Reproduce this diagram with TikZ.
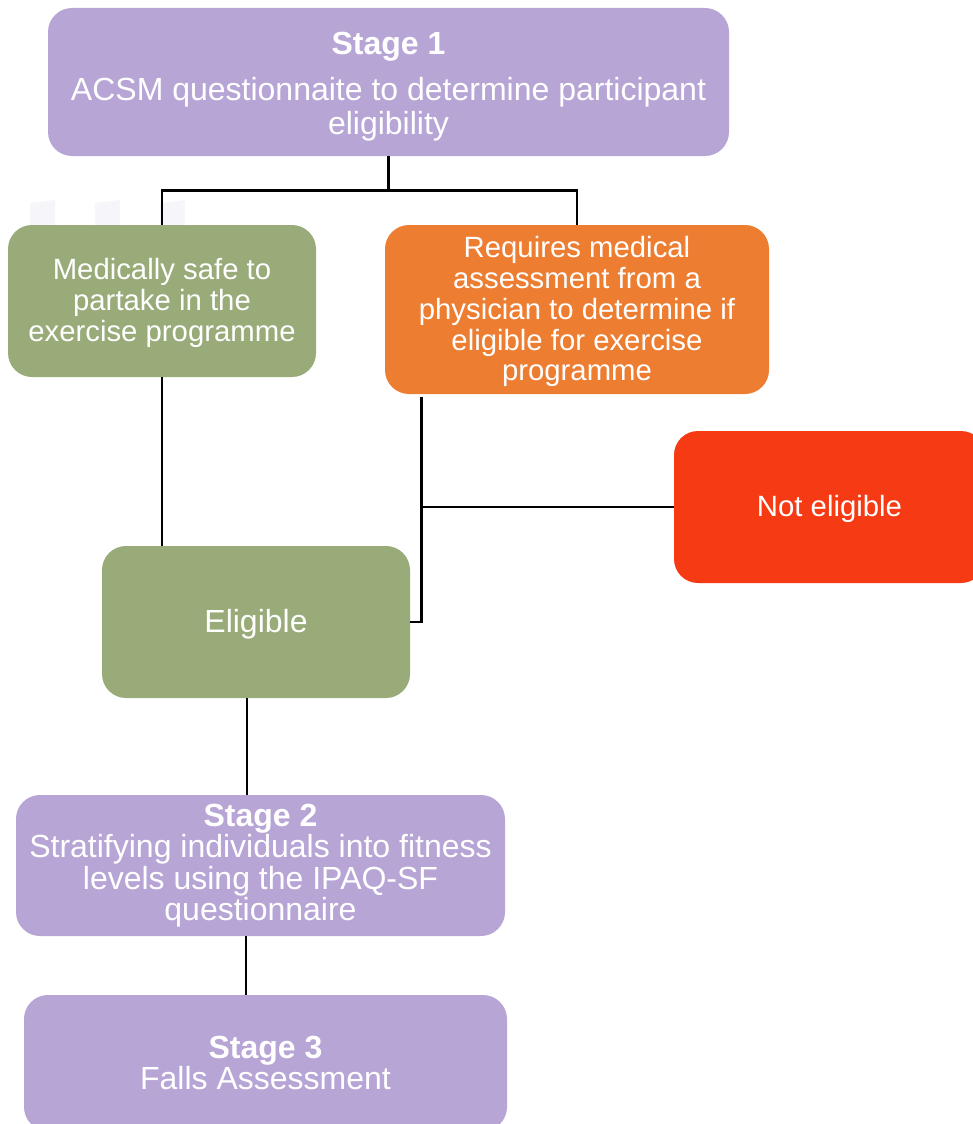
\documentclass[tikz,border=0pt]{standalone}
\usepackage{fontspec}
\setmainfont{Liberation Sans}
\usetikzlibrary{calc}
\definecolor{stagepurple}{HTML}{B7A5D6}
\definecolor{safegreen}{HTML}{98AB78}
\definecolor{assessorange}{HTML}{ED7D31}
\definecolor{rejectred}{HTML}{F53A14}
\definecolor{faintmark}{HTML}{F6F5FA}
\tikzset{
  box/.style={rounded corners=18pt, text=white, align=center,
    font=\fontsize{24}{23.5}\selectfont, inner sep=0pt},
  smallbox/.style={box, font=\fontsize{22}{23.2}\selectfont},
  conn/.style={line width=2pt, black},
}
\begin{document}
\begin{tikzpicture}[x=0.75pt, y=-0.75pt]
  \useasboundingbox (0,0) rectangle (973,1124);
  \clip (0,0) rectangle (973,1124);
  % faint marks behind the boxes
  \foreach \xm in {30,95,160}
    \fill[faintmark] (\xm,203) -- ++(25,-3) -- ++(0,28) -- ++(-25,0) -- cycle;

  \node[box, fill=stagepurple, minimum width=510.75pt, minimum height=111pt,
    font=\fontsize{24}{25.5}\selectfont]
    (s1) at (388.5,82) {{\bfseries Stage 1}\rule{0pt}{23pt}\\[9pt]ACSM questionnaite to determine participant\\eligibility};
  \node[smallbox, fill=safegreen, minimum width=231pt, minimum height=114pt]
    (med) at (162,301) {Medically safe to\rule{0pt}{19pt}\\partake in the\\exercise programme};
  \node[smallbox, fill=assessorange, minimum width=288pt, minimum height=126.75pt]
    (req) at (577,309.5) {Requires medical\rule{0pt}{19pt}\\assessment from a\\physician to determine if\\eligible for exercise\\programme};
  \node[smallbox, fill=rejectred, minimum width=233.25pt, minimum height=114pt]
    (nel) at (829.5,507) {Not eligible\rule{0pt}{19pt}};
  \node[box, fill=safegreen, minimum width=231pt, minimum height=114pt]
    (elig) at (256,622) {Eligible\rule{0pt}{20pt}};
  \node[box, fill=stagepurple, minimum width=366.75pt, minimum height=105.75pt]
    (s2) at (260.5,865.5) {{\bfseries Stage 2}\\Stratifying individuals into fitness\\levels using the IPAQ-SF\\questionnaire};
  \node[box, fill=stagepurple, minimum width=362.25pt, minimum height=102pt]
    (s3) at (265.5,1063) {{\bfseries Stage 3}\\Falls Assessment};

  % connectors
  \coordinate (split) at ($(s1.south)+(0,34)$);
  \coordinate (tap) at ($(req.south west)+(37,3)$);
  \draw[conn] (s1.south) -- (split) -| (med.north);
  \draw[conn] (split) -| (req.north);
  \draw[line width=1pt] (med.south) -- (med.south |- elig.north);
  \draw[conn] (tap) |- (elig.east);
  \draw[conn] (tap |- nel.west) -- (nel.west);
  \draw[conn] ([xshift=-6.75pt]elig.south) -- ([xshift=-6.75pt]elig.south |- s2.north);
  \draw[conn] ([xshift=-11pt]s2.south) -- ([xshift=-11pt]s2.south |- s3.north);
\end{tikzpicture}
\end{document}
